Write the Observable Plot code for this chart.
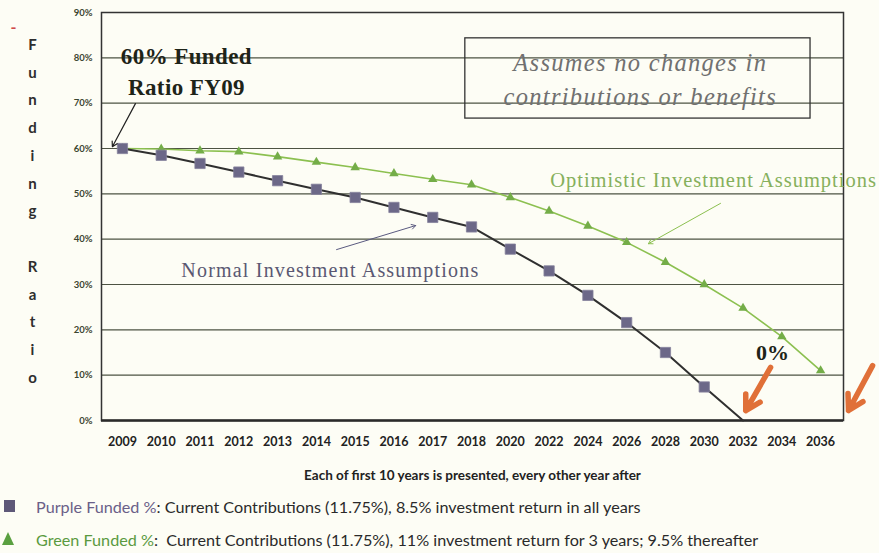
<!DOCTYPE html>
<html>
<head>
<meta charset="utf-8">
<script src="https://cdn.jsdelivr.net/npm/d3@7"></script>
<script src="https://cdn.jsdelivr.net/npm/@observablehq/plot@0.6"></script>
<style>
  html, body { margin: 0; padding: 0; background: #fdfdf5; }
  #wrap { position: relative; width: 879px; height: 553px; overflow: hidden; }
  #chart svg { display: block; }
  .leg { position: absolute; left: 36px; font-family: Lato, "Open Sans", sans-serif; font-size: 16.2px; color: #2a2a2a; white-space: nowrap; line-height: 18px; }
  .leg .k1 { color: #6a6088; }
  .leg .k2 { color: #5a9a40; }
  #sq { position: absolute; left: 4px; top: 500px; width: 11px; height: 12px; background: #5e5878; }
  #tri { position: absolute; left: 2px; top: 532px; width: 0; height: 0; border-left: 6px solid transparent; border-right: 6px solid transparent; border-bottom: 13px solid #5aa040; }
</style>
</head>
<body>
<div id="wrap">
  <div id="chart"></div>
  <div id="sq"></div>
  <div class="leg" style="top:498px"><span class="k1">Purple Funded %</span>: Current Contributions (11.75%), 8.5% investment return in all years</div>
  <div id="tri"></div>
  <div class="leg" style="top:531px"><span class="k2">Green Funded %</span>:&nbsp; Current Contributions (11.75%), 11% investment return for 3 years; 9.5% thereafter</div>
</div>
<script>
// Category labels on the x axis (each of first 10 years, then every other year)
const years = ["2009","2010","2011","2012","2013","2014","2015","2016","2017","2018",
               "2020","2022","2024","2026","2028","2030","2032","2034","2036"];
// Purple funded ratio (%), normal investment assumptions (reaches 0% at 2032)
const purpleFunded = [60, 58.5, 56.7, 54.8, 52.9, 51.0, 49.2, 47.0, 44.8, 42.7,
                      37.8, 33.0, 27.6, 21.6, 15.0, 7.4, 0];
// Green funded ratio (%), optimistic investment assumptions
const greenFunded = [60, 59.9, 59.5, 59.3, 58.2, 57.0, 55.8, 54.5, 53.2, 52.0,
                     49.2, 46.2, 42.9, 39.3, 34.9, 30.0, 24.8, 18.5, 11.0];
// Y tick values (%)
const yTicks = [0, 10, 20, 30, 40, 50, 60, 70, 80, 90];

const serif = '"Liberation Serif", "DejaVu Serif", serif';
const sans = 'Lato, "Open Sans", sans-serif';

const chart = Plot.plot({
  width: 879,
  height: 488,
  marginTop: 12,
  marginBottom: 68,
  marginLeft: 101,
  marginRight: 36,
  x: { type: "linear", domain: [-0.54, 18.59] },
  y: { domain: [0, 90] },
  style: { background: "transparent", fontFamily: sans, overflow: "visible" },
  marks: [
    Plot.ruleY(yTicks.filter(d => d > 0 && d < 90), { stroke: "#4d5343", strokeWidth: 1.2 }),
    Plot.frame({ stroke: "#333", strokeWidth: 1.5 }),
    Plot.ruleY([0], { stroke: "#2a2a2a", strokeWidth: 2.5 }),
    Plot.axisY(yTicks, { tickSize: 0, tickPadding: 9, tickFormat: d => d + "%", fontSize: 9.5, fontWeight: "bold", fill: "#3b4530", label: null }),
    Plot.axisX(years.map((_, i) => i), { tickSize: 0, tickPadding: 17, tickFormat: i => years[i], fontSize: 12.5, fontWeight: "bold", fill: "#222", label: null }),
    Plot.text(["Each of first 10 years is presented, every other year after"], { frameAnchor: "bottom", dy: 55, fontSize: 13.5, fontWeight: "bold", fill: "#222", lineAnchor: "middle" }),
    Plot.text(["F\nu\nn\nd\ni\nn\ng\n\nR\na\nt\ni\no"], { frameAnchor: "left", dx: -69, dy: -9, lineHeight: 1.85, fontSize: 15, fontWeight: "bold", fill: "#2e2e2e", textAnchor: "middle" }),
    Plot.text(["-"], { frameAnchor: "top-left", dx: -91, dy: 9, fill: "#d04a4a", fontSize: 16, fontWeight: "bold" }),

    // annotation box
    Plot.rect([0], { x1: 8.84, x2: 17.74, y1: 66.6, y2: 84.3, stroke: "#333", strokeWidth: 1.3, fill: "none" }),
    Plot.text(["Assumes no changes in\ncontributions or benefits"], { x: 13.35, y: 75.7, fontFamily: serif, fontStyle: "italic", fontSize: 24.5, lineHeight: 1.38, fill: "#707070" }),

    // series
    Plot.line(greenFunded, { x: (d, i) => i, y: d => d, stroke: "#8cc050", strokeWidth: 1.6 }),
    Plot.dot(greenFunded, { x: (d, i) => i, y: d => d, symbol: "triangle", r: 3.5, fill: "#74ad48", stroke: "none" }),
    Plot.line(purpleFunded, { x: (d, i) => i, y: d => d, stroke: "#2f2f2f", strokeWidth: 2 }),
    Plot.dot(purpleFunded, { filter: d => d > 0, x: (d, i) => i, y: d => d, symbol: "square", r: 5.8, fill: "#6c6888", stroke: "#85829c", strokeWidth: 0.8 }),

    // labels & arrows
    Plot.text(["60% Funded\nRatio FY09"], { x: 1.65, y: 77.4, fontFamily: serif, fontWeight: "bold", fontSize: 23, lineHeight: 1.35, fill: "#1e2418" }),
    Plot.arrow([0], { x1: 0.335, y1: 69.9, x2: -0.26, y2: 60.4, stroke: "#222", strokeWidth: 1.2, headLength: 7 }),
    Plot.text(["Optimistic Investment Assumptions"], { x: 15.24, y: 52.9, fontFamily: serif, fontSize: 20.5, fill: "#86b05c" }),
    Plot.arrow([0], { x1: 15.42, y1: 47.9, x2: 13.56, y2: 39.0, stroke: "#8cc050", strokeWidth: 1, headLength: 7 }),
    Plot.text(["Normal Investment Assumptions"], { x: 5.36, y: 33.1, fontFamily: serif, fontSize: 20, fill: "#5a5872" }),
    Plot.arrow([0], { x1: 5.52, y1: 37.7, x2: 7.56, y2: 43.0, stroke: "#5a5a80", strokeWidth: 1, headLength: 7 }),
    Plot.text(["0%"], { x: 16.76, y: 15.0, fontFamily: serif, fontWeight: "bold", fontSize: 22, fill: "#1e2418" }),
    Plot.arrow([0], { x1: 16.71, y1: 11.7, x2: 16.07, y2: 2.2, stroke: "#e07038", strokeWidth: 5.5, headLength: 16 }),
    Plot.arrow([0], { x1: 19.34, y1: 12.1, x2: 18.72, y2: 2.2, stroke: "#e07038", strokeWidth: 5.5, headLength: 16 })
  ]
});

// letter spacing to mimic the wider Garamond-like face of the original
const spacing = [
  ["Assumes no changes in", 1.3],
  ["Optimistic Investment Assumptions", 1.0],
  ["Normal Investment Assumptions", 1.2],
  ["60% Funded", 0.4]
];
d3.select(chart).selectAll("text").each(function () {
  const t = this.textContent;
  for (const [s, ls] of spacing) if (t.startsWith(s)) this.style.letterSpacing = ls + "px";
});
document.getElementById("chart").appendChild(chart);
</script>
</body>
</html>
